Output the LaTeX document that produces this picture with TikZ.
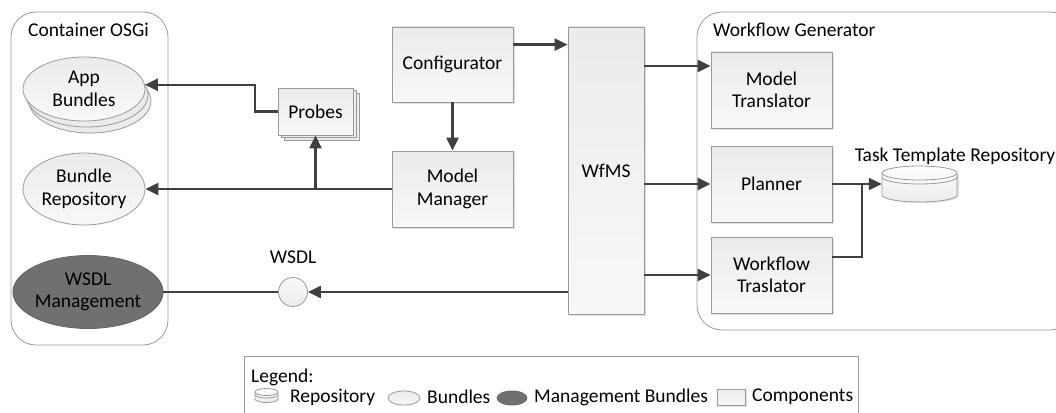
\documentclass[tikz,border=0pt]{standalone}
\usepackage{fontspec}
\setmainfont{Carlito}
\usetikzlibrary{shapes.geometric,shadows,arrows.meta,calc}
\definecolor{ln}{HTML}{404040}
\definecolor{bd}{HTML}{9A9A9A}
\definecolor{dk}{HTML}{707070}
\definecolor{ft}{HTML}{EBEBEB}
\definecolor{fb}{HTML}{F8F8F8}
\begin{document}
\begin{tikzpicture}[x=1pt,y=-1pt,
  every node/.style={font=\fontsize{19.5}{22.5}\selectfont, inner sep=0pt},
  comp/.style={rectangle, draw=bd, line width=0.8pt, top color=ft, bottom color=fb, align=center,
    minimum width=121pt, minimum height=76pt,
    drop shadow={shadow xshift=2pt, shadow yshift=-2pt, fill=gray!45, opacity=0.5}},
  bund/.style={ellipse, draw=bd, line width=0.8pt, top color=ft, bottom color=fb, align=center},
  grp/.style={rectangle, draw=bd, line width=0.8pt, rounded corners=25pt},
  arr/.style={draw=ln, line width=2.2pt, -{Triangle[length=13pt,width=12pt]}},
  cn/.style={draw=ln, line width=2.2pt},
  cyl/.style={draw=bd, line width=0.8pt}]
\useasboundingbox (0,0) rectangle (1056,412);
\clip (0,0) rectangle (1056,412);

% containers
\node[grp, minimum width=157pt, minimum height=333pt] (osgi) at (89.5,178.5) {};
\node[anchor=west] (osgit) at (28,30) {Container OSGi};
\node[grp, minimum width=378pt, minimum height=318pt] (wfg) at (886,171) {};
\node[anchor=west] (wfgt) at (713,30) {Workflow Generator};

% OSGi contents
\node[bund, minimum width=122pt, minimum height=64pt,
  double copy shadow={shadow xshift=3pt, shadow yshift=-6pt, fill=ft, draw=bd, line width=0.8pt}] (appb) at (84,89) {App\\Bundles};
\node[bund, minimum width=122pt, minimum height=72pt] (brep) at (84,189) {Bundle\\Repository};
\node[ellipse, draw=gray!80!black, line width=0.8pt, fill=dk, align=center,
  minimum width=149pt, minimum height=73pt] (wsdlm) at (88,292) {WSDL\\Management};

% middle
\node[rectangle, draw=bd, line width=0.8pt, top color=ft, bottom color=fb, minimum width=75pt, minimum height=47pt,
  double copy shadow={shadow xshift=3pt, shadow yshift=-2.5pt, fill=ft, draw=bd, line width=0.8pt}] (probes) at (315.5,111.5) {Probes};
\node[comp, minimum height=75pt] (config) at (452.5,64.5) {Configurator};
\node[comp] (mm) at (452.5,189) {Model\\Manager};
\node[comp, minimum width=76pt, minimum height=287pt] (wfms) at (606,170.5) {WfMS};
\node[circle, draw=bd, line width=0.8pt, top color=fb, bottom color=ft, minimum size=29pt] (wsdl) at (293,292) {};
\node (wsdlt) at (293,257) {WSDL};

% workflow generator
\node[comp] (mt) at (771.5,90) {Model\\Translator};
\node[comp] (pl) at (771.5,184) {Planner};
\node[comp] (wt) at (771.5,275) {Workflow\\Traslator};
\node[minimum width=75pt, minimum height=36pt] (repo) at (919.5,184) {};
\node (repot) at (955,156) {Task Template Repository};
\fill[gray!40, opacity=0.5] (884,174) -- (884,196) arc[start angle=180,end angle=360,x radius=37.5pt,y radius=7pt] -- (959,174) -- cycle;
\draw[cyl, top color=white, bottom color=ft] (882,173) -- (882,195) arc[start angle=180,end angle=360,x radius=37.5pt,y radius=7pt]
  -- (957,173) arc[start angle=0,end angle=180,x radius=37.5pt,y radius=7pt] -- cycle;
\draw[cyl] (882,173) arc[start angle=180,end angle=360,x radius=37.5pt,y radius=7pt];
\draw[cyl] (882,177) arc[start angle=180,end angle=360,x radius=37.5pt,y radius=7pt];

% connectors
\coordinate (pk) at ($(probes.west)+(-23,0)$);
\draw[arr] (probes.west) -- (pk) |- (appb.4);
\draw[arr] (mm.west) -- (brep.east);
\coordinate (jb) at (probes.south |- mm.west);
\draw[arr] (jb) -- (probes.south);
\draw[arr] (config.south) -- (mm.north);
\coordinate (ce) at ($(config.north east)+(0,18)$);
\draw[arr] (ce) -- (ce -| wfms.west);
\coordinate (mta) at ($(mt.west)+(0,-24)$);
\draw[arr] (wfms.east |- mta) -- (mta);
\draw[arr] (wfms.east |- pl.west) -- (pl.west);
\draw[arr] (wfms.east |- wt.west) -- (wt.west);
\draw[arr] (pl.east) -- (repo.west);
\coordinate (wte) at ($(wt.east)+(0,-18)$);
\coordinate (jr) at (862,184);
\draw[cn] (wte) -| (jr);
\draw[arr] (wfms.west |- wsdl.east) -- (wsdl.east);
\draw[cn] (wsdl.west) -- (wsdlm.east);

% legend
\node[rectangle, minimum width=613pt, minimum height=120pt] (leg) at (551.5,417) {};
\draw[draw=bd, line width=0.8pt] (leg.south west) -- (leg.north west) -- (leg.north east) -- (leg.south east);
\node[anchor=west] (legt) at (251,377) {Legend:};
\draw[cyl, top color=white, bottom color=ft] (255,392) -- (255,399) arc[start angle=180,end angle=360,x radius=11.5pt,y radius=3.5pt]
  -- (278,392) arc[start angle=0,end angle=180,x radius=11.5pt,y radius=3.5pt] -- cycle;
\draw[cyl] (255,392) arc[start angle=180,end angle=360,x radius=11.5pt,y radius=3.5pt];
\draw[cyl] (255,394.5) arc[start angle=180,end angle=360,x radius=11.5pt,y radius=3.5pt];
\node[anchor=west] (l1) at (290,397) {Repository};
\node[bund, minimum width=32pt, minimum height=14pt] (le2) at (404,398) {};
\node[anchor=west] (l2) at (427,397) {Bundles};
\node[ellipse, draw=gray!80!black, line width=0.8pt, fill=dk, minimum width=30pt, minimum height=14pt] (le3) at (512,398) {};
\node[anchor=west] (l3) at (534,397) {Management Bundles};
\node[comp, minimum width=28pt, minimum height=16pt] (le4) at (731,397) {};
\node[anchor=west] (l4) at (752,397) {Components};
\end{tikzpicture}
\end{document}
